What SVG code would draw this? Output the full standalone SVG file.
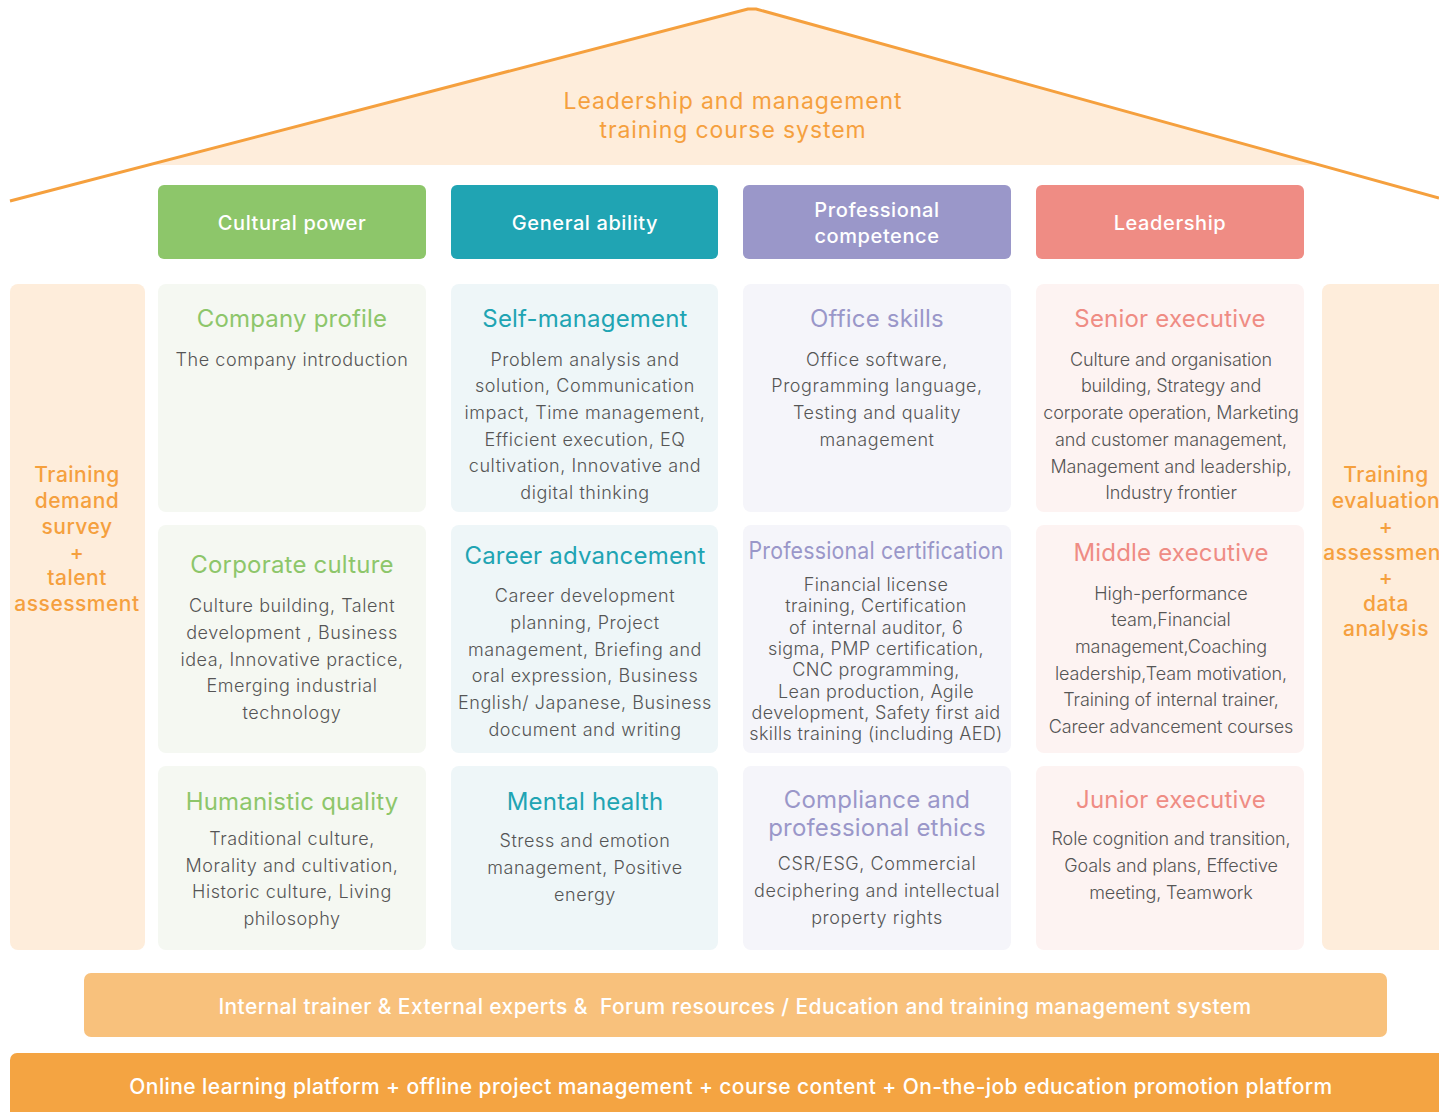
<svg xmlns="http://www.w3.org/2000/svg" width="1439" height="1112" viewBox="0 0 1439 1112">
<style>
text{font-family:Inter,"Noto Sans","Liberation Sans",sans-serif;text-anchor:middle;dominant-baseline:central}
.hd{fill:#fff;font-size:20px;font-weight:500;letter-spacing:0.6px}
.tt{font-size:24px;font-weight:400;letter-spacing:0.2px}
.bd{fill:#555;font-size:18px;font-weight:300;letter-spacing:0.55px}
.or{fill:#F5A03E;font-size:21px;font-weight:500;letter-spacing:0.5px}
.g{fill:#8DC66A}.t{fill:#20A4B3}.p{fill:#9A97C9}.r{fill:#EF8C84}
.bg{fill:#F5F8F2}.bt{fill:#EEF6F8}.bp{fill:#F5F5FA}.br{fill:#FDF3F2}
.wt{fill:#fff;font-size:21px;font-weight:500;letter-spacing:0.4px}
</style>
<rect width="1439" height="1112" fill="#fff"/>
<g id="roof">
<polygon points="752,9 149,165 1319,165" fill="#FEEDDB"/>
<polyline points="10,201 748,9 756,9 1439,198" fill="none" stroke="#F5A03E" stroke-width="3" stroke-linejoin="round"/>
<text class="or" x="733" y="101" style="font-size:23px;font-weight:400;letter-spacing:0.9px">Leadership and management</text>
<text class="or" x="733" y="130" style="font-size:23px;font-weight:400;letter-spacing:0.9px">training course system</text>
</g>
<g id="header-cultural"><rect class="g" x="158" y="185" width="268" height="74" rx="6"/><text class="hd" x="292" y="223">Cultural power</text></g>
<g id="header-general"><rect class="t" x="451" y="185" width="267" height="74" rx="6"/><text class="hd" x="585" y="223">General ability</text></g>
<g id="header-professional"><rect class="p" x="743" y="185" width="268" height="74" rx="6"/><text class="hd" x="877" y="210">Professional</text><text class="hd" x="877" y="236">competence</text></g>
<g id="header-leadership"><rect class="r" x="1036" y="185" width="268" height="74" rx="6"/><text class="hd" x="1170" y="223">Leadership</text></g>

<g id="pillar-left"><rect x="10" y="284" width="135" height="666" rx="8" fill="#FEEDDB"/>
<text class="or" x="77"><tspan x="77" y="474">Training</tspan><tspan x="77" y="500">demand</tspan><tspan x="77" y="526">survey</tspan><tspan x="77" y="552">+</tspan><tspan x="77" y="577">talent</tspan><tspan x="77" y="603">assessment</tspan></text></g>
<g id="pillar-right"><rect x="1322" y="284" width="130" height="666" rx="8" fill="#FEEDDB"/>
<text class="or" x="1386"><tspan x="1386" y="474">Training</tspan><tspan x="1386" y="500">evaluation</tspan><tspan x="1386" y="526">+</tspan><tspan x="1386" y="552">assessment</tspan><tspan x="1386" y="577">+</tspan><tspan x="1386" y="603">data</tspan><tspan x="1386" y="628">analysis</tspan></text></g>

<g id="company-profile"><rect class="bg" x="158" y="284" width="268" height="228" rx="8"/>
<text class="tt g" x="292" y="318">Company profile</text>
<text class="bd" x="292" y="359">The company introduction</text></g>
<g id="self-management"><rect class="bt" x="451" y="284" width="267" height="228" rx="8"/>
<text class="tt t" x="585" y="318">Self-management</text>
<text class="bd"><tspan x="585" y="359">Problem analysis and</tspan><tspan x="585" y="385">solution, Communication</tspan><tspan x="585" y="412">impact, Time management,</tspan><tspan x="585" y="439">Efficient execution, EQ</tspan><tspan x="585" y="465">cultivation, Innovative and</tspan><tspan x="585" y="492">digital thinking</tspan></text></g>
<g id="office-skills"><rect class="bp" x="743" y="284" width="268" height="228" rx="8"/>
<text class="tt p" x="877" y="318">Office skills</text>
<text class="bd"><tspan x="877" y="359">Office software,</tspan><tspan x="877" y="385">Programming language,</tspan><tspan x="877" y="412">Testing and quality</tspan><tspan x="877" y="439">management</tspan></text></g>
<g id="senior-executive"><rect class="br" x="1036" y="284" width="268" height="228" rx="8"/>
<text class="tt r" x="1170" y="318">Senior executive</text>
<text class="bd" style="letter-spacing:-0.1px"><tspan x="1171" y="359">Culture and organisation</tspan><tspan x="1171" y="385">building, Strategy and</tspan><tspan x="1171" y="412">corporate operation, Marketing</tspan><tspan x="1171" y="439">and customer management,</tspan><tspan x="1171" y="466">Management and leadership,</tspan><tspan x="1171" y="492">Industry frontier</tspan></text></g>

<g id="corporate-culture"><rect class="bg" x="158" y="525" width="268" height="228" rx="8"/>
<text class="tt g" x="292" y="564">Corporate culture</text>
<text class="bd"><tspan x="292" y="605">Culture building, Talent</tspan><tspan x="292" y="632">development , Business</tspan><tspan x="292" y="659">idea, Innovative practice,</tspan><tspan x="292" y="685">Emerging industrial</tspan><tspan x="292" y="712">technology</tspan></text></g>
<g id="career-advancement"><rect class="bt" x="451" y="525" width="267" height="228" rx="8"/>
<text class="tt t" x="585" y="555">Career advancement</text>
<text class="bd"><tspan x="585" y="595">Career development</tspan><tspan x="585" y="622">planning, Project</tspan><tspan x="585" y="649">management, Briefing and</tspan><tspan x="585" y="675">oral expression, Business</tspan><tspan x="585" y="702">English/ Japanese, Business</tspan><tspan x="585" y="729">document and writing</tspan></text></g>
<g id="professional-certification"><rect class="bp" x="743" y="525" width="268" height="228" rx="8"/>
<text class="tt p" x="876" y="550" textLength="255" lengthAdjust="spacingAndGlyphs">Professional certification</text>
<text class="bd" style="letter-spacing:0.35px"><tspan x="876" y="584">Financial license</tspan><tspan x="876" y="605">training, Certification</tspan><tspan x="876" y="627">of internal auditor, 6</tspan><tspan x="876" y="648">sigma, PMP certification,</tspan><tspan x="876" y="669">CNC programming,</tspan><tspan x="876" y="691">Lean production, Agile</tspan><tspan x="876" y="712">development, Safety first aid</tspan><tspan x="876" y="733">skills training (including AED)</tspan></text></g>
<g id="middle-executive"><rect class="br" x="1036" y="525" width="268" height="228" rx="8"/>
<text class="tt r" x="1171" y="552">Middle executive</text>
<text class="bd" style="letter-spacing:-0.1px"><tspan x="1171" y="593">High-performance</tspan><tspan x="1171" y="619">team,Financial</tspan><tspan x="1171" y="646">management,Coaching</tspan><tspan x="1171" y="673">leadership,Team motivation,</tspan><tspan x="1171" y="699">Training of internal trainer,</tspan><tspan x="1171" y="726">Career advancement courses</tspan></text></g>

<g id="humanistic-quality"><rect class="bg" x="158" y="766" width="268" height="184" rx="8"/>
<text class="tt g" x="292" y="801">Humanistic quality</text>
<text class="bd"><tspan x="292" y="838">Traditional culture,</tspan><tspan x="292" y="865">Morality and cultivation,</tspan><tspan x="292" y="891">Historic culture, Living</tspan><tspan x="292" y="918">philosophy</tspan></text></g>
<g id="mental-health"><rect class="bt" x="451" y="766" width="267" height="184" rx="8"/>
<text class="tt t" x="585" y="801">Mental health</text>
<text class="bd"><tspan x="585" y="840">Stress and emotion</tspan><tspan x="585" y="867">management, Positive</tspan><tspan x="585" y="894">energy</tspan></text></g>
<g id="compliance"><rect class="bp" x="743" y="766" width="268" height="184" rx="8"/>
<text class="tt p"><tspan x="877" y="799">Compliance and</tspan><tspan x="877" y="827">professional ethics</tspan></text>
<text class="bd"><tspan x="877" y="863">CSR/ESG, Commercial</tspan><tspan x="877" y="890">deciphering and intellectual</tspan><tspan x="877" y="917">property rights</tspan></text></g>
<g id="junior-executive"><rect class="br" x="1036" y="766" width="268" height="184" rx="8"/>
<text class="tt r" x="1171" y="799">Junior executive</text>
<text class="bd" style="letter-spacing:-0.1px"><tspan x="1171" y="838">Role cognition and transition,</tspan><tspan x="1171" y="865">Goals and plans, Effective</tspan><tspan x="1171" y="892">meeting, Teamwork</tspan></text></g>

<g id="resources-bar"><rect x="84" y="973" width="1303" height="64" rx="7" fill="#F8C17C"/>
<text class="wt" x="735" y="1006" xml:space="preserve">Internal trainer &amp; External experts &amp;  Forum resources / Education and training management system</text></g>
<g id="platform-bar"><rect x="10" y="1053" width="1440" height="70" rx="7" fill="#F4A442"/>
<text class="wt" x="731" y="1086">Online learning platform + offline project management + course content + On-the-job education promotion platform</text></g>
<g id="connectors"></g>
</svg>
